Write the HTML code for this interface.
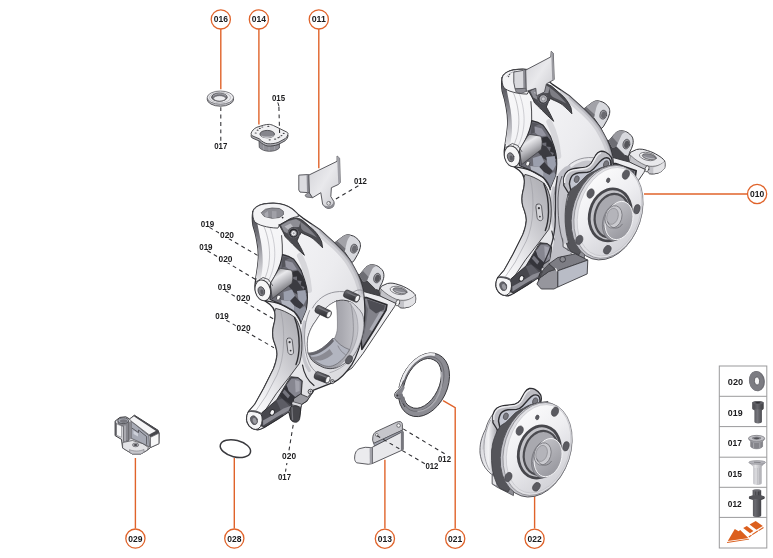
<!DOCTYPE html>
<html>
<head>
<meta charset="utf-8">
<title>Wheel bearing housing - exploded view</title>
<style>
html,body{margin:0;padding:0;background:#fff;}
body{width:773px;height:558px;overflow:hidden;font-family:"Liberation Sans",sans-serif;}
svg{display:block;}
.lbl{font-family:"Liberation Sans",sans-serif;font-weight:bold;font-size:8px;fill:#1c1c1e;}
.co{fill:#fff;stroke:#e0632a;stroke-width:1.3;}
#callouts text{font-size:8.8px;}
#legend text{font-size:8.6px;}
#labels text{font-size:8.5px;}
.ol{stroke:#e0632a;stroke-width:1.4;fill:none;}
.ds{stroke:#2e2e32;stroke-width:1.05;stroke-dasharray:3.9 3.5;fill:none;}
.tb{stroke:#9a9a9c;stroke-width:1;fill:none;}
</style>
</head>
<body>
<svg width="773" height="558" viewBox="0 0 773 558">
<defs>
<filter id="fx" x="-5%" y="-5%" width="110%" height="110%" color-interpolation-filters="sRGB"><feOffset dx="0" dy="0"/></filter>
<linearGradient id="gBody" x1="0" y1="0" x2="1" y2="1">
<stop offset="0" stop-color="#fbfbfc"/><stop offset="0.5" stop-color="#ececef"/><stop offset="1" stop-color="#cdcdd2"/>
</linearGradient>
<linearGradient id="gArm" x1="1" y1="0" x2="0.2" y2="1">
<stop offset="0" stop-color="#a6a6ac"/><stop offset="0.4" stop-color="#c6c6cb"/><stop offset="0.75" stop-color="#e9e9ec"/><stop offset="1" stop-color="#fbfbfc"/>
</linearGradient>
<linearGradient id="gFacet" x1="0" y1="0" x2="0" y2="1"><stop offset="0" stop-color="#4d4d53"/><stop offset="0.3" stop-color="#707077"/><stop offset="0.65" stop-color="#b0b0b6"/><stop offset="1" stop-color="#e3e3e6"/></linearGradient>
<linearGradient id="gPin" x1="0" y1="0" x2="0.45" y2="1">
<stop offset="0" stop-color="#6d6d72"/><stop offset="0.35" stop-color="#e9e9ec"/><stop offset="0.6" stop-color="#b5b5ba"/><stop offset="1" stop-color="#55555a"/>
</linearGradient>
<linearGradient id="gWall" x1="0" y1="0" x2="1" y2="0">
<stop offset="0" stop-color="#8d8d94"/><stop offset="0.6" stop-color="#a9a9b0"/><stop offset="1" stop-color="#cfcfd4"/>
</linearGradient>
<linearGradient id="gEar" x1="0" y1="0" x2="1" y2="1">
<stop offset="0" stop-color="#d6d6da"/><stop offset="1" stop-color="#a8a8ae"/>
</linearGradient>
<linearGradient id="gStud" x1="0" y1="0" x2="0" y2="1">
<stop offset="0" stop-color="#77777c"/><stop offset="0.4" stop-color="#4a4a4f"/><stop offset="1" stop-color="#2f2f33"/>
</linearGradient>

<clipPath id="ckb"><use href="#kbody"/></clipPath>
<g id="knuckle" stroke-linejoin="round" stroke-linecap="round">
<!-- ears -->
<path d="M333.9 243.4L341.5 237.5C343.5 236 345.2 235.2 346.9 234.8C348.3 234.6 349.6 234.8 350.9 235.3C352.8 235.6 354.4 236.4 355.8 237.5C357.6 238.8 358.9 240.2 359.8 242C360.5 243.6 360.6 245.5 360.3 247.4C359.8 250 358.8 252.2 357.6 254.5L354 260.8L351.8 262.6L344.6 251.9Z" fill="#d8d9de" stroke="#3c3c40" stroke-width="1"/>
<path d="M333.9 243.4L341.5 237.5C343.5 236 345.2 235.2 346.9 234.8C348.3 234.6 349.6 234.8 350.9 235.3C349 237.2 347.8 239.4 346.9 242L344.6 251.9L339.2 247.4Z" fill="#a2a2a8"/>
<path d="M333.9 243.4L339.2 247.4L344.6 251.9L345.4 248.5L337 241Z" fill="#707076"/>
<ellipse cx="354" cy="248.7" rx="3.3" ry="4.5" transform="rotate(14 354 248.7)" fill="#9b9ba1" stroke="#47474c" stroke-width="0.7"/>
<ellipse cx="354.3" cy="248.9" rx="2.3" ry="3.4" transform="rotate(14 354.3 248.9)" fill="#6a6a70"/>
<!-- dark band under ear 2 -->
<path d="M357 273.5L368 279L380.5 288.5L384 295.5L398 299L396 304L384 300L372 297L362 292L356 284Z" fill="#46464b" stroke="#333337" stroke-width="0.8"/>
<!-- ear 2 -->
<path d="M359.4 274.9L365.8 267.4C367.5 265.8 369.3 265 371.2 264.7C373.2 264.6 375.2 265 377.1 265.8C379.5 267 381.5 268.8 383 271.1C384 273.4 384.2 276 383.5 278.7C382.8 281.5 381.7 284 380.3 286.2L379.2 290.5L375.5 289.4L366.9 280.8L363.1 281.9Z" fill="#d8d9de" stroke="#3c3c40" stroke-width="1"/>
<path d="M359.4 274.9L365.8 267.4C367.5 265.8 369.3 265 371.2 264.7C373.2 264.6 375.2 265 377.1 265.8C375 266.4 373.4 267.4 372.3 269L366.9 280.8L363.1 281.9Z" fill="#9a9aa0"/>
<path d="M359.4 274.9L363.1 281.9L366.9 280.8L368.5 277L363 271Z" fill="#6d6d73"/>
<ellipse cx="377.1" cy="278.1" rx="3.4" ry="4.9" transform="rotate(14 377.1 278.1)" fill="#9b9ba1" stroke="#47474c" stroke-width="0.7"/>
<ellipse cx="377.4" cy="278.3" rx="2.4" ry="3.7" transform="rotate(14 377.4 278.3)" fill="#55555a"/>
<!-- tie-rod ear -->
<path d="M379.2 290.5L381.4 286.2L387.3 283.5C391 282.6 395 283.4 398.1 284.6C402 285.6 405.6 287.4 408.8 289.4C411.5 291 413.8 292.8 415.3 294.8C415.8 297.5 415.8 300 415.3 302.3C413.8 304.2 412 305.6 409.9 306.6C406.6 307.8 403.4 308.2 400.2 307.7L395.9 303.4L388 301L380 296Z" fill="#e9e9ec" stroke="#3c3c40" stroke-width="1"/>
<path d="M381.4 289.5C386 294 391 297 396 299.2C402 301.4 410 300.6 415.4 295.4C415.8 297.8 415.8 300 415.3 302.3C413.8 304.2 412 305.6 409.9 306.6C406.6 307.8 403.4 308.2 400.2 307.7L395.9 303.4L388 301L380.4 296Z" fill="#c3c3c8" stroke="#3c3c40" stroke-width="0.6"/>
<path d="M404 301.5C408 301 412 298.8 415.3 295.5L415.3 302.3C413.8 304.2 412 305.6 409.9 306.6L404 307.6Z" fill="#e3e3e6"/>
<ellipse cx="398.6" cy="290.5" rx="8.6" ry="3.9" transform="rotate(12 398.6 290.5)" fill="#f2f2f4" stroke="#5a5a60" stroke-width="0.7"/>
<ellipse cx="399.6" cy="290.7" rx="6.8" ry="2.7" transform="rotate(12 399.6 290.7)" fill="#8a8a91" stroke="#4a4a4e" stroke-width="0.6"/>
<path d="M393.4 289.6C395 291.6 398.5 292.9 402 293.2C404 293.2 405.6 292.8 406.3 292.2C404 292.4 401 292.2 398.6 291.6C396.4 291.1 394.6 290.4 393.4 289.6Z" fill="#b9b9bf"/>
<ellipse cx="397.7" cy="302.8" rx="1.9" ry="3.2" transform="rotate(18 397.7 302.8)" fill="#f4f4f5" stroke="#3c3c40" stroke-width="0.7"/>
<!-- right dark web -->
<path d="M358 290L380 296L396 303.5L394.6 306.5L384.7 321L373.9 337.2L363 353.5L352 368L338 377L332 372L356 345Z" fill="#ededf0" stroke="#333337" stroke-width="0.9"/>
<path d="M362 297.6L366.3 297.5L386.9 304.7L386 310L374 330L361.9 349.4L360 330Z" fill="#82828a" stroke="#2c2c30" stroke-width="1.7"/>
<path d="M367 299.2L385 305.6L384.2 309.6L376 313.5L369.5 308.5Z" fill="#4d4d54"/>
<path d="M383.6 312L372 331L369.4 329.4L380 311.6Z" fill="#abacb5"/>
<path d="M363.5 300L368 309L366 325L363.5 338Z" fill="#6d6d75"/>

<!-- main silhouette -->
<path id="kbody" d="M252.8 211.8C253.6 208.4 258 205 264.1 204C270 203 278 202.8 284.1 204.9C290 206.6 295 211 297.9 214.3L302.9 218.1L319.7 229.5L335.4 243.8C343 251 350 259 353.5 266C357 272 361.5 281 363.4 292C365.4 304 365.6 318 363 332C361 343 357 356 351.8 364.6C346 373 340 379 334.6 381.8L323.8 386.1L313 390.4L306.7 400.9L301.3 404.5L299.5 417.1L295.9 421.5L290.6 418.9L288.8 411.7L278 418.9L263.7 427.8C261 429.4 258 430 256.5 429.6C253 429 250.5 427.5 249.3 426C247 423 246.4 420.5 246.6 418.9C246.8 416 247.4 413.5 248.4 411.7L254.7 404.5L263.7 388.4L273.5 368.7C275.5 364 276.8 358.5 277.1 354.3C277 349 275 344 273.5 340C272.3 335 272.6 330 273.5 326C275 321 275.6 316 274.8 312C274 308.6 272.6 306.6 270 304.5L263.6 299.9C260 297.5 257.5 295.5 256.3 293C255 290 254.7 286.4 255.2 283L255.9 278C256.6 273 258 266 258.4 258C258.6 252 258 247 257 242C256 236 254.5 230 253 225.5C252.2 221 252.2 216 252.8 211.8Z" fill="url(#gBody)" stroke="#2c2c30" stroke-width="1.3"/>

<!-- soft edge shading -->
<g clip-path="url(#ckb)" fill="none" stroke-linecap="round">
<path d="M316 227L335.4 243.8C343 251 350 259 353.5 266C357 272 361.5 281 363.4 292" stroke="#b4b4bb" stroke-width="11" opacity="0.45"/>
<path d="M322 231.5L335.4 243.8C343 251 350 259 353.5 266C357 272 361.5 281 363.4 292" stroke="#a6a6ad" stroke-width="5" opacity="0.5"/>
<path d="M300 256C305 266 308 277 309 290" stroke="#c6c6cc" stroke-width="6" opacity="0.6"/>
</g>
<!-- left arm shading -->
<path d="M252.8 214C252.2 218 252.3 222 253 225.5C254.5 230 256 236 257 242C258 247 258.6 252 258.4 258C258 266 256.6 273 255.9 278L260.6 279.5C262 273 262.8 267 262.7 261C262.6 253 261.8 245 260.2 238C258.8 231 257.4 224 256 216Z" fill="url(#gFacet)"/>

<path d="M264 226.5C268 236 270 248 269.5 258C269 268 266.5 276 263 282" fill="none" stroke="#a2a2a8" stroke-width="0.6"/>
<path d="M270 227.6C274 238 275.5 250 274.5 260C273.5 270 270 279 266 285" fill="none" stroke="#b4b4ba" stroke-width="0.6"/>

<!-- cavity behind left arm -->
<path d="M282.4 254.6C281.6 261 279 268 276 274C274 278 272 281 270.5 283.5L270 299.5L281.6 304.4L294.2 311.5L301 322L306.4 309C307.6 302 307.8 294 306.6 287.6C305.4 282 303.4 276 301.3 270.6C298.6 266 296 262 293.8 259.3C290.5 257 286.5 255.4 282.4 254.6Z" fill="#6c6c75" stroke="#2e2e32" stroke-width="1.1"/>
<!-- upper lighter patch -->
<path d="M285 260.5L292.5 262.5L297 269.5L290.5 270.5L285.5 266.5Z" fill="#9494a0"/>
<path d="M282.6 256.5L290 258L285 260.5L285.5 266.5L281.5 268Z" fill="#54545b"/>
<!-- middle dark -->
<path d="M290 272L298 270.5L302.5 276L306 284L306.8 293L303 291.5L304.5 287L300.5 285.5L301.5 281L297 280.5L297 276.5L292.5 277Z" fill="#313136"/>
<path d="M291 278L297 280.5L300.5 285.5L304.5 291L306.6 296L301 296.5L294 292.5L288.5 286Z" fill="#3b3b41"/>
<!-- lower lighter -->
<path d="M283.5 292L292 289.5L295 296L290 301L284 300Z" fill="#9b9fad"/>
<path d="M297 291L305.5 290L306.5 299L303.5 305L298.5 300Z" fill="#9b9fad"/>
<path d="M290 301L295 296L298.5 300L303.5 305L300 309L294.5 306Z" fill="#3a3a40"/>
<path d="M281 300L290 301L294.5 306L294.2 311.5L282 304.5Z" fill="#b0b3be"/>
<path d="M294.5 306L300 309L304.8 306L306.4 309L301 322L294.2 311.5Z" fill="#8e919d"/>
<!-- pin -->
<path d="M270.5 283.5C273 279 276 274 278.6 269.6L280.5 268.4L291.5 270.2C293 273 293.4 278 292 283.4L272.5 298.5Z" fill="url(#gPin)" stroke="#38383c" stroke-width="0.7"/>
<path d="M281.6 235.6C282.2 242 282.6 248 282.4 254.6" fill="none" stroke="#333337" stroke-width="0.9"/>
<!-- left boss -->
<ellipse cx="262.8" cy="290.4" rx="7.6" ry="10.6" transform="rotate(-14 262.8 290.4)" fill="#f6f6f7" stroke="#3a3a3e" stroke-width="1"/>
<path d="M256.5 281.5L263 277.5L268.5 279.5L272.5 285.5" fill="none" stroke="#3a3a3e" stroke-width="0.8"/>
<ellipse cx="261.4" cy="291.3" rx="3.2" ry="4.6" transform="rotate(-14 261.4 291.3)" fill="#85858b" stroke="#444448" stroke-width="0.8"/>
<ellipse cx="262" cy="292" rx="1.6" ry="2.6" transform="rotate(-14 262 292)" fill="#5c5c62"/>
<ellipse cx="278.5" cy="297.6" rx="1.9" ry="2.6" transform="rotate(20 278.5 297.6)" fill="#f6f6f7" stroke="#3a3a3e" stroke-width="0.7"/>
<!-- outline curve under boss -->
<path d="M266 300.8C272 301.5 277 302.6 281.6 304.6C287 307 291.5 309.6 294.4 312C297.5 315 300 319.5 301 323.5" fill="none" stroke="#2e2e32" stroke-width="1.3"/>

<!-- top boss -->
<path d="M252.8 211.8C253.6 208.4 258 205 264.1 204C270 203 278 202.8 284.1 204.9C290 206.6 295 211 297.9 214.3L298.5 216.5C294 217 290.5 218.2 287.9 220L279.5 225.2L277.9 228.1C272 228 267 227 264.1 226.2C259 225 256 223 254.7 221.8C253 219 252.4 215 252.8 211.8Z" fill="#f3f3f5" stroke="#38383c" stroke-width="0.9"/>
<path d="M261.5 212.5L265.5 209.2L272 208L279.5 208.5L283.3 211.2L283.5 214.5L279.5 217.5L272 218.3L264.5 216.5Z" fill="#8d8d94" stroke="#55555a" stroke-width="0.8"/>
<path d="M264.5 213.5L268 211L268.5 217.6L264.8 216.4Z" fill="#a9a9b0"/>
<path d="M272 211L276.5 211.2L276.5 217.9L272 218.3Z" fill="#a0a0a7"/>
<circle cx="282.6" cy="217.6" r="0.9" fill="#2a2a2e"/>

<!-- dark pocket -->
<path d="M279.1 225L287.9 220.3C291 218.6 294.5 217.8 296.7 218.1C299.5 218.6 301.5 219.5 302.9 220.6L314.2 230.6C317.5 234 320 238 321.7 241.9L322.6 247.8C320.5 245.6 318.5 243.6 316.5 241.8C314.5 240 313.6 239.2 312.9 238.6C310 236.6 307.4 235.4 305 234.5C303.4 233.8 302 233 301 232.4C300.8 233.6 300.2 234.6 299.2 235.6L297 241C299.5 245 302 250 304.4 255.3C300 251.5 296 247.5 292.5 244C289.5 241 287 238.5 285.2 236.8C283.8 233 281.5 229 279.1 225Z" fill="#4b4b50" stroke="#2c2c30" stroke-width="0.9"/>
<path d="M281 225.3L288.5 221L296 219L300.5 221.5L299 227L291 227.5L287.5 233.5L284 231.5Z" fill="#8d8d94"/>
<path d="M284.5 226.5L290.5 223.4L293 226.6L288 229.5Z" fill="#b9b9bf"/>
<path d="M300 221.5C305 224.5 311 230 317 237.5C313.5 235.6 310 234 306.7 232.6C304.5 231.6 302.4 230.4 301.3 228.5Z" fill="#7d7d84"/>
<circle cx="293.5" cy="233" r="5.7" fill="#26262a"/>
<circle cx="293.5" cy="233" r="5" fill="none" stroke="#5e5e64" stroke-width="1.6" stroke-dasharray="1.1 1.3"/>
<circle cx="293.7" cy="233.3" r="2.8" fill="#f2f2f4" stroke="#77777d" stroke-width="0.9"/>
<circle cx="293.7" cy="233.3" r="1.1" fill="#9a9aa0"/>

<!-- ring boss around hole -->
<path d="M304.5 322C302.5 330 301.8 340 302.6 350C303.4 358 305.6 365 309.4 370.5" fill="none" stroke="#c6c6cc" stroke-width="3.2"/>
<path d="M312.5 308C317 299.5 325.5 293.5 335 292C341 291 347 291.5 351 293.8C355.5 290 360 289 362.8 290.6" fill="none" stroke="#8d8d94" stroke-width="0.9"/>
<path d="M309.6 310.5C306.4 317.5 304.5 327 304.5 337C304.5 347 306 356 309.4 363.5C311 367 313.5 370 316 372" fill="none" stroke="#8d8d94" stroke-width="0.9"/>
<path d="M330 372.6C336 371 343 367 348.6 361.5" fill="none" stroke="#a2a2a8" stroke-width="0.8"/>
<!-- hole -->
<path id="khole" d="M336.4 301.1C339 300.2 341.5 300 343.6 300.2C346 300.4 348 300.8 349.8 301.6C352.4 302.8 354.4 304.4 356.1 306.5C358.8 309 361 311.6 362.4 314.6C363.4 318 363.8 321.6 363.7 325.3C363.4 331 362 337 360.1 342.5C358 348 355.4 352.8 352.6 356.6C348 361.6 342 365.4 336.6 367.6C334 368.4 331.5 368.8 329 368.6C326 368.4 323 367.6 320.4 366C317 364.4 314.2 362.4 311.8 360.1C310 357.6 308.8 354.8 308.1 351.5C307.4 348 307.2 344.4 307.5 340.8C307.8 338 308.1 336.5 308.6 335C310 330 312.6 325 315.8 320.9C319 315.6 322.6 311 326.5 307.4C329.6 304.6 333 302.5 336.4 301.1Z" fill="url(#gWall)" stroke="#47474c" stroke-width="1"/>
<!-- light strip right -->
<path d="M349.8 301.6C352.4 302.8 354.4 304.4 356.1 306.5C358.8 309 361 311.6 362.4 314.6C363.4 318 363.8 321.6 363.7 325.3C363.4 331 362 337 360.1 342.5C358 348 355.4 352.8 352.6 356.6C348 361.6 342 365.4 336.6 367.6C341 364.4 346 360 349.4 355C352.6 350 355.4 343.6 356.8 337.6C357.8 333 358.2 329 357.9 325.3C357.6 320 356.8 315.4 355.2 311.9C353.6 308 351.6 305 348.9 302.9Z" fill="#d6d6db" stroke="#8d8d94" stroke-width="0.5"/>
<path d="M350.7 303.5C352.4 310 353.4 320 353.4 330C353.2 338 351.6 346 348.6 352" fill="none" stroke="#85858c" stroke-width="0.7"/>
<!-- see-through -->
<path d="M336.4 301.1L336.6 305C337.2 312 337.6 320 337.4 328C337.2 331.5 336.2 335 334.4 338.6L332.3 338.6C330 341.5 327.4 344 324.7 346.1C322 348.4 319.2 350.2 316.1 351.5C313.4 352.5 310.6 353.2 308.1 353.1C307.4 349 307.2 344.4 307.5 340.8C307.8 338 308.1 336.5 308.6 335C310 330 312.6 325 315.8 320.9C319 315.6 322.6 311 326.5 307.4C329.6 304.6 333 302.5 336.4 301.1Z" fill="#ffffff" stroke="#6a6a70" stroke-width="0.6"/>
<!-- floor -->
<path d="M308.1 353.1C310.6 353.2 313.4 352.5 316.1 351.5C319.2 350.2 322 348.4 324.7 346.1C327.4 344 330 341.5 332.3 338.6L334.4 338.6C338 343.5 343 347.5 349.5 349.6C347 354.5 343 359.6 337.6 363.4C334 365.6 331 366.6 328.4 366.4C325.6 366.2 323 365.4 320.6 364.2C317.4 362.6 314.6 360.6 312.4 358.6C310.4 356.6 309 354.8 308.1 353.1Z" fill="#b2b5c0" stroke="#5a5a60" stroke-width="0.6"/>
<path d="M308.1 353.1C310.6 353.2 313.4 352.5 316.1 351.5C319.2 350.2 322 348.4 324.7 346.1C327.4 344 330 341.5 332.3 338.6L334 341C331.5 344 329 346.5 326 348.8C323 351 320 352.8 317 354C314.2 355 311.6 355.6 309.4 355.4Z" fill="#65656c"/>
<path d="M311 356.4C313.5 357 316.5 356.6 319.6 355.4C323 354 326.4 351.8 329.6 349L333 354C329.5 357 326 359 322.6 360C319 361 315.6 360.6 313.2 359.4Z" fill="#8b8b93"/>
<path d="M338 346C339.6 349.5 342 352.5 345.4 354.6" fill="none" stroke="#77777e" stroke-width="0.7"/>

<!-- hex hole + tiny bolts -->
<ellipse cx="349" cy="359.8" rx="3" ry="4.5" transform="rotate(28 349 359.8)" fill="#5e5e64" stroke="#3a3a3e" stroke-width="0.6"/>
<circle cx="332.4" cy="381.6" r="2" fill="#dcdce0" stroke="#303034" stroke-width="0.8"/>
<circle cx="332.4" cy="381.6" r="0.8" fill="#55555a"/>
<circle cx="310.5" cy="391.6" r="2.4" fill="#dcdce0" stroke="#303034" stroke-width="0.8"/>
<circle cx="310.5" cy="391.6" r="1" fill="#55555a"/>

<!-- lower arm -->
<path d="M276 308.5C281 309.5 288 312.5 294.4 317C298 321 300.5 328 301.5 336C302.5 345 302 355 299.5 363.3L288.8 377.6L276.2 393.8L265.5 409.9L261 414C257 411.5 252 411 248.4 411.7L254.7 404.5L263.7 388.4L273.5 368.7C275.5 364 276.8 358.5 277.1 354.3C277 349 275 344 273.5 340C272.3 335 272.6 330 273.5 326C275 321 275.6 316 274.8 312Z" fill="url(#gArm)" stroke="#333337" stroke-width="0.9"/>
<path d="M281 312C283.5 322 284 334 283.5 345C283 356 281 366 277 375L266 396L256.5 410" fill="none" stroke="#9c9ca2" stroke-width="0.6"/>
<path d="M294.5 317.5C297.8 326 299.3 336 299.2 346C299 354 297.8 360 296 364.5" fill="none" stroke="#2e2e32" stroke-width="1.4"/>
<!-- slot -->
<path d="M287.6 338.4C289.2 337.4 291.6 338 292.2 340.2L293.6 352C293.6 354.2 291.6 355.2 289.8 354.4C288.6 353.8 288 352.8 287.8 351.4L286.6 341C286.6 339.8 287 339 287.6 338.4Z" fill="#d4d4d8" stroke="#47474c" stroke-width="0.8"/>
<circle cx="289.6" cy="342.2" r="1.1" fill="#38383c"/>
<circle cx="290.6" cy="350.6" r="0.9" fill="#38383c"/>
<!-- lower cavity -->
<path d="M290.8 376.8L298 377.5L302.3 380.8L301.2 394.7L294.1 399.1L292.1 405.5L289 411.5L278 418.9L265 427L260.8 425.8L261.5 413L276.5 400.1Z" fill="#47474d" stroke="#2c2c30" stroke-width="0.9"/>
<path d="M291.5 378.5L298 378.5L301.4 381.6L300.6 393.6L295 397L288.5 391L286.5 385Z" fill="#868690"/>
<path d="M295 380L299.6 381.6L299.6 391L295.6 392.6Z" fill="#a3a3ad"/>
<path d="M286.5 385L288.5 391L295 397L294.1 399.1L292.1 405.5L282 398.5L279.5 395.5Z" fill="#34343a"/>
<path d="M284.5 389.5L290 395.5L288 398.5L282.5 392.5Z" fill="#75757e"/>
<path d="M276.5 400.5L282 398.5L290.5 407L289 411.5L283 415.5Z" fill="#5d5d65"/>
<path d="M263.2 425.6L276 417.6L288.6 410.6L291.2 405.8L283.5 408.6L272 415.6L263 420.5Z" fill="#8b8b93"/>
<ellipse cx="272.2" cy="412.4" rx="2.2" ry="2.9" transform="rotate(25 272.2 412.4)" fill="#f4f4f5" stroke="#2c2c30" stroke-width="0.9"/>
<!-- arm tip face -->
<path d="M248.4 411.7C252 410.6 257 411.5 261 414C262.8 417.5 262.6 422.5 260.5 426.5C258.5 429.3 256 430 253.5 429C250 427.5 247.3 424 246.7 420.5C246.3 417 247 414 248.4 411.7Z" fill="#f5f5f6" stroke="#333337" stroke-width="1"/>
<ellipse cx="254" cy="420.2" rx="3.3" ry="4.5" transform="rotate(-20 254 420.2)" fill="#66666c" stroke="#47474c" stroke-width="0.7"/>
<ellipse cx="254.7" cy="420.8" rx="1.9" ry="2.9" transform="rotate(-20 254.7 420.8)" fill="#9a9aa0"/>
<path d="M249.6 410.6C253 409.6 258 410.6 261.6 413L262.2 415.4C258.5 412.6 253.5 411.4 248.8 412.2Z" fill="#55555a"/>
<!-- ball-joint clamp + bolt -->
<path d="M294 398.5L300.5 394L307.5 397L313.5 391.5L306.8 401L301.4 404.6L293.5 402.5Z" fill="#9a9aa0" stroke="#2c2c30" stroke-width="0.8"/>
<path d="M292.6 401.6L301.6 404.2L301 407.2L291.8 404.6Z" fill="#dadade" stroke="#2c2c30" stroke-width="0.6"/>
<path d="M290 409.5C290 406.5 293 405.2 296 405.8C299 406.2 300.8 408 300.6 410.5L299.6 419.2C299 421.5 296.5 422.6 294.5 422.2C292 421.8 290.4 420.2 290.4 418Z" fill="#46464b" stroke="#26262a" stroke-width="0.7"/>
<path d="M292 407.5L292.6 419.5" stroke="#77777d" stroke-width="1.2" fill="none"/>

<!-- bottom ring edge light -->
<path d="M302.5 365C304 374 308 381 314 385.5" fill="none" stroke="#2e2e32" stroke-width="1.2"/>
</g>

<g id="kstuds">
<!-- studs -->
<g><path d="M344.6 297.3L355.6 302.1A2.2 3.9 24 0 0 358.8 294.9L347.8 290.1A2.2 3.9 24 0 0 344.6 297.3Z" fill="url(#gStud)" stroke="#2a2a2e" stroke-width="0.7"/><path d="M347.4 292.3L356.5 296.3" stroke="#77777d" stroke-width="1.3" fill="none"/><ellipse cx="357.2" cy="298.5" rx="2" ry="3.4" transform="rotate(24 357.2 298.5)" fill="#f6f6f7" stroke="#3a3a3e" stroke-width="0.6"/></g>
<g><path d="M315.8 312.5L327.2 317.9A2.2 3.9 25 0 0 330.6 310.9L319.2 305.5A2.2 3.9 25 0 0 315.8 312.5Z" fill="url(#gStud)" stroke="#2a2a2e" stroke-width="0.7"/><path d="M318.7 307.6L328.3 312.2" stroke="#77777d" stroke-width="1.3" fill="none"/><ellipse cx="328.9" cy="314.4" rx="2" ry="3.4" transform="rotate(25 328.9 314.4)" fill="#f6f6f7" stroke="#3a3a3e" stroke-width="0.6"/></g>
<g><path d="M315.0 378.8L326.4 383.2A2.2 3.9 21 0 0 329.2 376.0L317.8 371.6A2.2 3.9 21 0 0 315.0 378.8Z" fill="url(#gStud)" stroke="#2a2a2e" stroke-width="0.7"/><path d="M317.5 373.7L327.0 377.4" stroke="#77777d" stroke-width="1.3" fill="none"/><ellipse cx="327.8" cy="379.6" rx="2" ry="3.4" transform="rotate(21 327.8 379.6)" fill="#f6f6f7" stroke="#3a3a3e" stroke-width="0.6"/></g>
</g>
<linearGradient id="gFl" x1="0" y1="0" x2="1" y2="1">
<stop offset="0" stop-color="#ffffff"/><stop offset="0.45" stop-color="#eeeef1"/><stop offset="1" stop-color="#c9c9cf"/>
</linearGradient>
<linearGradient id="gBk" x1="0" y1="0" x2="1" y2="0">
<stop offset="0" stop-color="#d9d9de"/><stop offset="0.5" stop-color="#f1f1f3"/><stop offset="1" stop-color="#a9a9b0"/>
</linearGradient>
<linearGradient id="gCyl" x1="0" y1="0" x2="1" y2="1">
<stop offset="0" stop-color="#c9c9ce"/><stop offset="1" stop-color="#909097"/>
</linearGradient>
<g id="hubBody" stroke-linejoin="round">
<!-- bearing body bulge -->
<path d="M493 414C489.5 418.5 487 423.5 485.7 429C483.5 433 481.8 437.5 480.8 441.9C480 446 479.8 449.5 480 453.2C480.6 457.5 481.6 461 483.3 464.5C485.5 468.5 488 471.5 491.3 474.2L496 474L497 416Z" fill="url(#gBk)" stroke="#5a5a60" stroke-width="0.9"/>
<path d="M490.5 420C486.5 428 484.3 437 484 446C483.8 455 485.5 463 489.5 470" fill="none" stroke="#8d8d93" stroke-width="0.7"/>
<path d="M487.6 426.5C484.5 434 483 442 483 449.5" fill="none" stroke="#b0b0b6" stroke-width="0.6"/>
</g>
<g id="hubBack" stroke-linejoin="round">
<!-- back flange rim -->
<path d="M492.9 422.6L492.9 415.3C493.6 412 495 409.6 497 408.1C499 406.6 501 405.9 503.4 405.6C507 405.1 511 404.9 514.8 404.2C517 403.6 519 402.2 520.4 400.1L524.8 392.3C526 390.3 527.5 389 529.3 388.5C531.3 388.1 533.2 388.5 534.9 389.4C537.5 390.8 539.4 392.5 540.5 394.6C541.3 396.5 541.5 398.4 541.2 400.1L540.5 403.5L521 415L505 432L497.5 430Z" fill="#bdbdc3" stroke="#2e2e32" stroke-width="1.3"/>
<path d="M493.8 420V415.6C494.6 412.5 496 410.4 498 409C500 407.6 502 407.2 504 407C508 406.5 512 406.3 515.5 405.4C518 404.6 520 403 521.5 400.8L525.6 393.4C526.8 391.6 528.2 390.5 530 390.1" fill="none" stroke="#ededf0" stroke-width="1.4"/>
<!-- back flange face -->
<path d="M498.5 421C499 416.5 500.2 413.5 502.4 411.9C504 410.7 506 410 508 409.8C511 409.6 514 409.6 516.5 409.4C519 409 521 407.8 522.6 406L528.8 399C530.3 397.3 531.8 396 533.6 395.2C535.3 394.6 537 394.8 538.4 395.8C539.6 397 540.2 399 540 401.1L539.5 404L521 416L506 432L500 428Z" fill="#c3c6d1" stroke="#2e2e32" stroke-width="1.4"/>
<ellipse cx="535.2" cy="401.3" rx="2.5" ry="3.6" transform="rotate(18 535.2 401.3)" fill="#77777e" stroke="#4b4b50" stroke-width="0.7"/>
<ellipse cx="505.8" cy="416.3" rx="2.4" ry="3.4" transform="rotate(18 505.8 416.3)" fill="#77777e" stroke="#4b4b50" stroke-width="0.7"/>
<!-- lower ear -->
<path d="M492.1 474.6L492.1 483.9L497 487.1L513.4 495.6L514 488L497.5 470Z" fill="#8e8e95" stroke="#47474c" stroke-width="0.8"/>
<path d="M492.8 476L492.8 483.5L496.2 485.6L496.2 477.6Z" fill="#e3e3e6"/>
<!-- dark band -->
<path d="M548 401.4L539.7 402.8C536 403.2 533 403.8 530.8 404.6C528 405.6 525.5 407 523.6 408.2C520.5 409.6 518 411 515.5 412.6C514 414 512.5 415.6 511.1 417.1L505.7 422.5C503.5 423.8 501.8 425 500.3 426.1C499 428 498 429.8 497 431.5C496 433.5 495.2 435.5 494.5 437.5C493.8 439.4 493.2 441.2 492.8 443C492.4 444.4 492.2 445.8 492.2 447C491.6 449 491.4 451 491.5 453C491.3 458 491.5 463 492.1 467.7C492.4 470.4 493 473 493.7 475C494.6 478.4 495.8 481.6 497 484L500 488.5L508 492L520 470L540 420Z" fill="#55555a" stroke="#39393d" stroke-width="0.7"/>
</g>
<g id="hubFront" stroke-linejoin="round">
<ellipse cx="536" cy="449.6" rx="34.2" ry="48.6" transform="rotate(18 536 449.6)" fill="#c3c3c9" stroke="#55555a" stroke-width="0.9"/>
<ellipse cx="537.6" cy="449" rx="33" ry="47.6" transform="rotate(18 537.6 449)" fill="#e1e1e5" stroke="#77777d" stroke-width="0.6"/>
<ellipse cx="538.6" cy="448.8" rx="30.6" ry="45.4" transform="rotate(18 538.6 448.8)" fill="url(#gFl)" stroke="#b9b9bf" stroke-width="0.5"/>
<!-- bolt holes -->
<g fill="#5b5b61" stroke="#46464b" stroke-width="0.6">
<ellipse cx="555" cy="411.7" rx="3.4" ry="4.8" transform="rotate(22 555 411.7)"/>
<ellipse cx="519.7" cy="430.6" rx="3.4" ry="4.8" transform="rotate(22 519.7 430.6)"/>
<ellipse cx="566" cy="446.3" rx="3" ry="4.8" transform="rotate(14 566 446.3)"/>
<ellipse cx="508.4" cy="477" rx="3.4" ry="4.8" transform="rotate(22 508.4 477)"/>
<ellipse cx="536.4" cy="486.8" rx="3.4" ry="4.6" transform="rotate(30 536.4 486.8)"/>
<ellipse cx="537.3" cy="417.4" rx="1.7" ry="2.4" transform="rotate(18 537.3 417.4)"/>
</g>
<!-- centre boss -->
<ellipse cx="539.4" cy="452" rx="20.6" ry="26.4" transform="rotate(16 539.4 452)" fill="#c3c3c8" stroke="#47474c" stroke-width="2.8"/>
<ellipse cx="541" cy="452.8" rx="16.8" ry="22.2" transform="rotate(16 541 452.8)" fill="#a9a9af" stroke="#4b4b50" stroke-width="2.2"/>
<!-- protruding cylinder -->
<ellipse cx="545.4" cy="458.8" rx="13.4" ry="19.4" transform="rotate(16 545.4 458.8)" fill="#96969d" stroke="#6d6d73" stroke-width="0.6"/>
<path d="M532.4 462L535.2 470.5L540.6 476.2" fill="none" stroke="#77777d" stroke-width="0.6"/>
<ellipse cx="548.1" cy="457.6" rx="13.4" ry="19.5" transform="rotate(16 548.1 457.6)" fill="url(#gCyl)" stroke="#f4f4f6" stroke-width="0.9"/>
<ellipse cx="542.6" cy="454" rx="8.3" ry="11.4" transform="rotate(16 542.6 454)" fill="#cacacf" stroke="#77777d" stroke-width="0.8"/>
<ellipse cx="541.6" cy="453.4" rx="5.6" ry="8.2" transform="rotate(16 541.6 453.4)" fill="#b4b4ba" stroke="#8d8d93" stroke-width="0.7"/>
<path d="M536.6 458.5C538 462.5 541 465 544.6 465.2C547.5 465.2 550 463.6 551.6 461" fill="none" stroke="#707076" stroke-width="0.9"/>
</g>

<linearGradient id="gPl" x1="0" y1="0" x2="1" y2="1"><stop offset="0" stop-color="#cfcfd4"/><stop offset="0.5" stop-color="#e9e9ec"/><stop offset="1" stop-color="#c9c9ce"/></linearGradient>
<linearGradient id="gL1" x1="0" y1="0" x2="1" y2="0"><stop offset="0" stop-color="#47474c"/><stop offset="0.45" stop-color="#77777d"/><stop offset="1" stop-color="#3c3c40"/></linearGradient>
<linearGradient id="gL2" x1="0" y1="0" x2="1" y2="0"><stop offset="0" stop-color="#9d9da3"/><stop offset="0.4" stop-color="#e3e3e6"/><stop offset="1" stop-color="#8a8a90"/></linearGradient>
<linearGradient id="gL3" x1="0" y1="0" x2="1" y2="0"><stop offset="0" stop-color="#3c3c40"/><stop offset="0.4" stop-color="#6a6a70"/><stop offset="1" stop-color="#2f2f33"/></linearGradient>

</defs>
<rect x="0" y="0" width="773" height="558" fill="#ffffff"/>

<!-- ===== orange leader lines ===== -->
<g id="leaders">
<path class="ol" d="M220.8 29V89.3"/>
<path class="ol" d="M258.9 29V124.5"/>
<path class="ol" d="M318.8 29V168.2"/>
<path class="ol" d="M644 194H747"/>
<path class="ol" d="M135.4 458V528.5"/>
<path class="ol" d="M234.3 458V528.5"/>
<path class="ol" d="M384.9 459.7V528.5"/>
<path class="ol" d="M443.1 400.6L455.2 407.6V528.5"/>
<path class="ol" d="M534.6 495.3V528.5"/>
</g>

<!-- ===== washer 016 ===== -->
<g id="p016">
<ellipse cx="220.4" cy="99" rx="13.3" ry="7.2" fill="#c6c6cb" stroke="#47474c" stroke-width="0.9"/>
<ellipse cx="220.4" cy="97.6" rx="13.2" ry="6.6" fill="#ececef" stroke="#55555a" stroke-width="0.7"/>
<ellipse cx="220" cy="97.6" rx="10.6" ry="5.2" fill="none" stroke="#a2a2a8" stroke-width="0.6"/>
<ellipse cx="219.4" cy="97.2" rx="7.8" ry="4" fill="#77777e" stroke="#3c3c40" stroke-width="0.8"/>
<ellipse cx="219.6" cy="98.4" rx="6" ry="2.7" fill="#ececef" stroke="#5a5a60" stroke-width="0.6"/>
<path d="M213 96.2C214.5 94.6 217 93.8 219.6 93.8C222.4 93.8 225 94.6 226.4 96.2" fill="none" stroke="#b9b9bf" stroke-width="0.8"/>
</g>
<!-- ===== flange nut 014 ===== -->
<g id="p014" stroke-linejoin="round">
<path d="M259 141L259.3 147.6C261.5 150 265.5 151.3 269.6 151.3C273.6 151.3 277.4 150.2 279.4 148L279.4 141Z" fill="#8e8e95" stroke="#47474c" stroke-width="0.8"/>
<path d="M263.5 143L263.7 149.8M269 144L269.1 151M274.6 143.5L274.6 150.2" stroke="#a9a9af" stroke-width="0.7" fill="none"/>
<path id="nf" d="M251.1 135.6C251.6 133.4 254 130.4 256.8 129.3L263.4 127.2C265.4 126.6 267.6 126.4 269.4 126.5C271.2 126.6 273 127.4 275 128.4L286 133.8C287.4 134.5 288.1 135 288 135.6C288 137.2 287 139.2 285.1 140.8L278 144.6C275 145.7 271 146.2 267.9 146C265 145.7 262 143.8 259.3 141L252.2 138C251.4 137.4 251 136.5 251.1 135.6Z" fill="#b4b4ba" stroke="#3c3c40" stroke-width="0.9"/>
<path d="M251.1 133.4C251.6 131.2 254 128.4 256.8 127.3L263.4 125.2C265.4 124.6 267.6 124.3 269.4 124.4C271.2 124.5 273 125.3 275 126.3L286 131.7C287.4 132.4 288.1 132.9 288 133.5C288 135.1 287 137.1 285.1 138.7L278 142.5C275 143.5 271 144 267.9 143.8C265 143.5 262 141.6 259.3 138.8L252.2 135.8C251.4 135.2 251 134.3 251.1 133.4Z" fill="#f0f0f2" stroke="#3c3c40" stroke-width="0.9"/>
<ellipse cx="267.2" cy="134.1" rx="7.3" ry="3.7" fill="#85858c" stroke="#47474c" stroke-width="0.9"/>
<path d="M260.3 134.9C261.6 137.2 264.6 138 267.4 138C270.4 138 273.2 137 274.4 135C272.6 136.2 270 136.6 267.4 136.6C264.6 136.6 262 136 260.3 134.9Z" fill="#c3c3c8"/>
<g fill="#47474c"><ellipse cx="255.7" cy="133" rx="1.1" ry="0.6"/><ellipse cx="257.6" cy="130.2" rx="1" ry="0.6"/><ellipse cx="259.8" cy="128.4" rx="1" ry="0.6"/><ellipse cx="262.3" cy="127" rx="1" ry="0.6"/><ellipse cx="268.3" cy="126.3" rx="1.2" ry="0.6"/><ellipse cx="269.7" cy="139.8" rx="1.2" ry="0.6"/><ellipse cx="275.1" cy="139.1" rx="1.2" ry="0.6"/><ellipse cx="278.3" cy="137.7" rx="1" ry="0.6"/><ellipse cx="281.5" cy="135.6" rx="1" ry="0.6"/><ellipse cx="283.7" cy="133.4" rx="1" ry="0.6"/></g>
</g>
<!-- ===== shield 011 ===== -->
<g id="p011" stroke-linejoin="round">
<path d="M298.8 175.1L308.8 174.5L309.4 192.7L300 192.1L298.8 190Z" fill="#dcdce0" stroke="#4a4a4f" stroke-width="0.9"/>
<path d="M306.6 174.7L308.9 174.6L309.4 193.4L307 192.5Z" fill="#8d8d94"/>
<path d="M309.4 192.9L312.6 197.7L306.3 197.1L305 195.3L308.2 192.7Z" fill="#9d9da4" stroke="#4a4a4f" stroke-width="0.7"/>
<path d="M308.8 175.1L337.1 161.3L337.1 156L339.6 158.2L340.2 182.7L338.3 184.5L331.4 187.7L330.8 196.5L333.9 201.5C334.4 203.5 334 205.2 333.3 206.5C331.8 208 329.6 208.6 327.7 208.4C325 207.5 323.4 206 322.6 204L320.8 192.7L312.6 197.7L309.4 193Z" fill="url(#gPl)" stroke="#4a4a4f" stroke-width="0.9"/>
<path d="M337.1 156L339.6 158.2L340.2 182.7L338.3 184.5Z" fill="#a0a0a7"/>
<path d="M322.6 204C323.4 206 325 207.5 327.7 208.4C329.6 208.6 331.8 208 333.3 206.5C334 205.2 334.4 203.5 333.9 201.5C333 204.5 330.5 206.4 327.8 206.2C325.4 206 323.6 205 322.6 204Z" fill="#8a8a91"/>
<circle cx="328.7" cy="203.3" r="1.9" fill="#f1f1f3" stroke="#4a4a4f" stroke-width="0.7"/>
<path d="M328.7 203.3L330.6 202.2" stroke="#4a4a4f" stroke-width="0.6"/>
</g>
<!-- ===== shield 013 ===== -->
<g id="p013" stroke-linejoin="round">
<path d="M372.9 436.4C373.4 434.2 374.4 432.6 376 431.7L396.2 422.4C397.6 421.7 399 421.5 400.1 421.6C401.6 422 402.4 423.2 402.4 424.7L402.4 430.2L373.7 443.4L372.6 440.3Z" fill="#c6c6cb" stroke="#4a4a4f" stroke-width="0.9"/>
<path d="M373.7 443.4L402.4 430.2L402 433.2L374.4 446Z" fill="#9fa2ad" stroke="#4a4a4f" stroke-width="0.6"/>
<circle cx="398.6" cy="425.5" r="1.8" fill="#f4f4f5" stroke="#4a4a4f" stroke-width="0.7"/>
<circle cx="376.8" cy="434.9" r="1.4" fill="#f4f4f5" stroke="#4a4a4f" stroke-width="0.6"/>
<path d="M372.2 447.3L400.9 432.5L403.2 431.7L403.2 449.6L400.9 450.7L372.2 463.6Z" fill="#e8e8eb" stroke="#4a4a4f" stroke-width="0.9"/>
<path d="M400.9 432.5L403.2 431.7L403.2 449.6L400.9 450.7Z" fill="#77777e"/>
<path d="M355.9 451.9C357 450 358.5 449 360 448.5L365.2 447.3L372.2 447.6L372.2 463.6L368.3 464.3L356.6 462.8C355.2 461.5 354.6 460 354.6 458.1C354.6 455.6 355 453.6 355.9 451.9Z" fill="#ebebee" stroke="#4a4a4f" stroke-width="0.9"/>
<path d="M369.6 447.5L372.2 447.6L372.2 463.6L369.8 464Z" fill="#a0a0a7"/>
</g>
<!-- ===== snap ring 021 ===== -->
<g id="p021">
<path d="M438.7 354.7A22.9 33.5 26 1 1 409.3 414.9A22.9 33.5 26 1 1 438.7 354.7ZM433.8 359.9A15.9 26.2 26 1 0 410.8 406.9A15.9 26.2 26 1 0 433.8 359.9Z" fill="#8c8c93" fill-rule="evenodd" stroke="#38383c" stroke-width="1"/>
<path d="M435.7 357.9A18.6 29.0 26 1 1 410.3 410.1A18.6 29.0 26 1 1 435.7 357.9Z" fill="none" stroke="#5e5e64" stroke-width="0.7"/>
<path d="M437.7 355.7A21.4 32.0 26 1 1 409.7 413.3A21.4 32.0 26 1 1 437.7 355.7Z" fill="none" stroke="#ececef" stroke-width="2.6" stroke-dasharray="0 110 56 300"/>
<path d="M441.5 372C443 381 441 392 435.5 400.5C431 407 424 411.6 417.5 411.5" fill="none" stroke="#a9a9af" stroke-width="1.5"/>
<!-- gap -->
<path d="M398 388L408 386L409 395L399.5 398Z" fill="#ffffff"/>
<path d="M403.6 380.5C402.4 384 401 387 399 389.4C396.5 391 394.6 392.5 394.6 395.2C394.8 397.6 396.4 399 398.4 398.6C400.2 398 401 396.6 400.8 394.8" fill="none" stroke="#38383c" stroke-width="0.9"/>
<path d="M397.5 392.4C399 394.4 400.4 397 401.4 400C402.4 402.6 403.5 405 405 407" fill="none" stroke="#38383c" stroke-width="0.9"/>
<path d="M395.6 393.4C397.6 390.6 400.6 389.2 402.4 386L404.8 387.4C403.2 391 401.6 393.4 401.2 396C400.4 398.2 398 399 396.4 397.8C395 396.8 394.8 394.8 395.6 393.4Z" fill="#85858c"/>
<path d="M398.4 394.6C400 397.5 401.2 400.6 402.4 403.4L405.6 401.6C404 398.6 402.8 395.8 402.6 393.4Z" fill="#77777e"/>
<circle cx="397.4" cy="395.4" r="1" fill="#38383c"/>
</g>
<!-- ===== O-ring 028 ===== -->
<ellipse cx="235.4" cy="448.6" rx="15.5" ry="8.3" transform="rotate(14 235.4 448.6)" fill="none" stroke="#3a3a3e" stroke-width="1.5"/>
<!-- ===== sensor 029 ===== -->
<g id="p029" stroke-linejoin="round">
<path d="M115.1 421.1L119.9 417.4L125.8 416.8L129.6 419L134.4 415.2L158.1 430.3L159.1 433L158.9 443.7L150.5 447.5L147.3 450.2L140.9 453.9L132.3 453.9L122.6 448L121.5 439.4L115.1 435.6Z" fill="#d9d9dd" stroke="#3a3a3e" stroke-width="1"/>
<!-- base -->
<path d="M122.6 442.6L132.3 440.5L143 443.7L148.4 447.5L147.3 450.2L140.9 453.9L132.3 453.9L122.6 448Z" fill="#e3e3e6" stroke="#4a4a4f" stroke-width="0.7"/>
<path d="M129.5 449.6L129.8 452.4L132.3 453.9L140.9 453.9L144 452.2L144 449.4C141.5 450.6 139 451 136.5 451C134 451 131.5 450.6 129.5 449.6Z" fill="#c6c6cb" stroke="#6a6a70" stroke-width="0.5"/>
<ellipse cx="135.6" cy="444.9" rx="3.2" ry="1.9" fill="#a9a9af" stroke="#5a5a60" stroke-width="0.6"/>
<ellipse cx="135.6" cy="444.9" rx="1.6" ry="1" fill="#47474c"/>
<!-- front face -->
<path d="M131.2 421.1L148.9 435.6L149.5 446.9L143 443.7L131.2 438.3Z" fill="#a6a9b4" stroke="#47474c" stroke-width="0.7"/>
<path d="M131.8 428L138.5 432.6L138.5 430L146.6 436.6L146.6 444.6" fill="none" stroke="#47474c" stroke-width="0.8"/>
<path d="M133.5 430.5L138 433.5L138 436.5L133.5 434Z" fill="#ced1da"/>
<path d="M131.2 421.1L131.2 438.3L128.6 440.8L128.6 422.5Z" fill="#8a8a91"/>
<!-- top face -->
<path d="M129.6 419L134.4 415.7L157.6 430.6L149.2 434.8L131.2 421.1Z" fill="#f4f4f6" stroke="#47474c" stroke-width="0.6"/>
<!-- dark band -->
<path d="M134.4 415.2L158.1 430.3L159.1 433L150.5 437.3L148.9 435.1L156 431L134.2 416.6Z" fill="#47474c"/>
<!-- end face -->
<path d="M150.5 437.3L158.9 433.2L158.9 443.7L150.5 447.5Z" fill="#f7f7f8" stroke="#47474c" stroke-width="0.7"/>
<!-- tube -->
<path d="M118 420.8L118 424L123.4 426.5L123.4 441.6L128.6 440.8L128.6 421Z" fill="#85858c" stroke="#47474c" stroke-width="0.6"/>
<path d="M125 425.5L125 441.2" stroke="#b9b9bf" stroke-width="1.4"/>
<ellipse cx="123.2" cy="420.7" rx="5.4" ry="2.9" fill="#a4a7b0" stroke="#47474c" stroke-width="0.8"/>
<ellipse cx="123.6" cy="421.1" rx="3.6" ry="1.8" fill="#77777e"/>
<!-- left white face -->
<path d="M116.2 423.8L121.5 426L121.5 437.3L116.2 435.1Z" fill="#f7f7f8" stroke="#6a6a70" stroke-width="0.5"/>
<path d="M115.1 421.1L116.6 423.6L116.6 435.4L115.1 435.6Z" fill="#55555a"/>
</g>


<use href="#hubBody"/><use href="#hubBack"/><use href="#hubFront"/>
<g id="asm010">
<use href="#knuckle" transform="translate(249.3 -134)"/>
<path d="M557.4 176C560 170 565 166 570 165L580 200L575 250L560 262L549 264C551.5 255 553.4 246 554.6 238C555.6 228 555.8 216 555.6 205C555.6 195 556 186 557.4 176Z" fill="#bfbfc6"/>
<ellipse cx="583" cy="199" rx="27" ry="39" transform="rotate(14 583 199)" fill="#c6c6cc"/>
<path d="M557.4 176C556.4 182 555.6 188 555.5 195C555.4 206 555.6 216 555 226C554 236 551.5 246 548 254C546 259 543.5 264 541 268" fill="none" stroke="#34343a" stroke-width="1.3"/>
<path d="M562 176C559.6 182 558.4 190 558 198C557.8 210 558.4 222 560.4 232C561.6 239 564 246 568.6 251" fill="none" stroke="#5a5a60" stroke-width="0.9"/>
<use href="#hubBack" transform="translate(70.9 -237.1)"/><path d="M566.4 195C563.6 203 562.6 213 563 222C563.4 230 564.6 237 566.4 243" fill="none" stroke="#c3c3c9" stroke-width="4.6"/>
<path d="M568.2 194C565.6 202 564.8 212 565.2 222C565.6 230 566.8 237 568.8 243.6" fill="none" stroke="#3a3a3e" stroke-width="0.8"/>
<use href="#hubFront" transform="translate(70.9 -237.1)"/>
<!-- shield on 010 -->
<g stroke-linejoin="round">
<ellipse cx="521.6" cy="79" rx="12.4" ry="6" transform="rotate(4 521.6 79)" fill="#f1f1f3"/>
<path d="M507 76.5C509 73.5 512 72 515 71.5" fill="none" stroke="#8d8d94" stroke-width="0.7"/>
<circle cx="508.6" cy="76.6" r="0.7" fill="#47474c"/><circle cx="509.6" cy="74.6" r="0.7" fill="#47474c"/>
<circle cx="543.3" cy="98.9" r="4.2" fill="#a9a9af" stroke="#3a3a3e" stroke-width="0.9"/>
<circle cx="543.3" cy="98.9" r="2" fill="#c9c9ce" stroke="#6a6a70" stroke-width="0.5"/>
<path d="M513.8 72L525.1 70.1L525.7 88.3L515.1 88.9L513.8 82.6Z" fill="#d9d9dd" stroke="#4a4a4f" stroke-width="0.9"/>
<path d="M523 70.6L525.7 70.1L526 89.5L523.4 88.5Z" fill="#8d8d94"/>
<path d="M525.7 70.1L550.8 56.9L551.2 51.3L553.3 53.2L554.2 79.5L546.4 83.9L544.5 92L536.4 95.8L535.8 88.3L526.3 91.4Z" fill="url(#gPl)" stroke="#4a4a4f" stroke-width="0.9"/>
<path d="M551.2 51.3L553.3 53.2L554.2 79.5L552.2 80.6Z" fill="#9a9aa0"/>
<path d="M515.1 88.9L525.7 88.3L526.3 91.4L521 93.5L516 92Z" fill="#8d8d94" stroke="#4a4a4f" stroke-width="0.6"/>
</g>
<!-- block under hub on 010 -->
<g stroke-linejoin="round">
<path d="M548.9 263.9L557.7 257.6L575.2 253.8L587.8 260.1L557.7 270.8L554.5 268.9Z" fill="#7d7d84" stroke="#3a3a3e" stroke-width="0.9"/>
<path d="M557.7 270.8L587.8 260.1L587.2 273.9L557.7 287.1Z" fill="#b9bcc6" stroke="#3a3a3e" stroke-width="0.9"/>
<path d="M540.1 277.7L548.9 271.4L555.1 269.5L557.7 270.8L557.7 287.1L553.9 289L541.3 289L536.9 284Z" fill="#96969d" stroke="#3a3a3e" stroke-width="0.9"/>
<path d="M548.9 263.9L554.5 268.9L557.7 270.8L555.1 269.5L548.9 271.4L540.1 277.7L543 270Z" fill="#5e5e64" stroke="#3a3a3e" stroke-width="0.7"/>
<circle cx="562.7" cy="259.3" r="2.8" fill="#8a8a90" stroke="#34343a" stroke-width="0.8"/>
<path d="M555.5 268.2L557.2 271.2" stroke="#ffffff" stroke-width="1.2" fill="none"/>
</g>
</g>

<use href="#knuckle"/><use href="#kstuds"/>


<!-- ===== dashed lines ===== -->
<g id="dashes">
<path class="ds" d="M220.8 107.2V141"/>
<path class="ds" d="M278.9 107L279.7 137.6"/>
<path d="M277.8 102.4L279 106.4" stroke="#2e2e32" stroke-width="1" fill="none"/>
<path class="ds" d="M358.4 185.8L333.9 200.2"/>
<path class="ds" d="M209.4 227.4L257.8 255.5"/>
<path class="ds" d="M207.4 250.7L255.9 279.7"/>
<path class="ds" d="M225.1 290.6L273.5 319"/>
<path class="ds" d="M226.3 320.2L273.9 347.7"/>
<path class="ds" d="M293.2 424.8L285.5 471.6"/>
<path class="ds" d="M403.2 428.9L446.7 455"/>
<path class="ds" d="M376.8 435.6L425.7 464.3"/>
</g>

<!-- ===== small labels ===== -->
<g id="labels" class="lbl" text-anchor="middle" filter="url(#fx)">
<g fill="#fff" stroke="none">
<rect x="219" y="230.6" width="16" height="8"/>
<rect x="217.8" y="254.8" width="16" height="8"/>
<rect x="235.5" y="294" width="16" height="8"/>
<rect x="235.8" y="323.5" width="16" height="8"/>
<rect x="281.3" y="450.5" width="16" height="12.5"/>
</g>
<text x="220.8" y="148.9" textLength="13.1" lengthAdjust="spacingAndGlyphs">017</text>
<text x="278.5" y="100.9" textLength="13.2" lengthAdjust="spacingAndGlyphs">015</text>
<text x="360.4" y="183.7" textLength="13.0" lengthAdjust="spacingAndGlyphs">012</text>
<text x="207.5" y="226.9" textLength="13.4" lengthAdjust="spacingAndGlyphs">019</text>
<text x="227.0" y="237.8" textLength="14.0" lengthAdjust="spacingAndGlyphs">020</text>
<text x="205.9" y="249.6" textLength="13.4" lengthAdjust="spacingAndGlyphs">019</text>
<text x="225.5" y="262.0" textLength="14.0" lengthAdjust="spacingAndGlyphs">020</text>
<text x="224.5" y="289.6" textLength="13.4" lengthAdjust="spacingAndGlyphs">019</text>
<text x="243.3" y="301.2" textLength="14.0" lengthAdjust="spacingAndGlyphs">020</text>
<text x="222.0" y="318.6" textLength="13.4" lengthAdjust="spacingAndGlyphs">019</text>
<text x="243.6" y="330.7" textLength="14.0" lengthAdjust="spacingAndGlyphs">020</text>
<text x="289.1" y="458.7" textLength="14.0" lengthAdjust="spacingAndGlyphs">020</text>
<text x="284.5" y="479.6" textLength="13.1" lengthAdjust="spacingAndGlyphs">017</text>
<text x="444.5" y="461.6" textLength="13.0" lengthAdjust="spacingAndGlyphs">012</text>
<text x="431.9" y="469.1" textLength="13.0" lengthAdjust="spacingAndGlyphs">012</text>
</g>

<!-- ===== callout circles ===== -->
<g id="callouts" class="lbl" text-anchor="middle" filter="url(#fx)">
<circle class="co" cx="220.8" cy="19.4" r="9.6"/><text x="220.8" y="22.3" textLength="14.2" lengthAdjust="spacingAndGlyphs">016</text>
<circle class="co" cx="258.9" cy="19.4" r="9.6"/><text x="258.9" y="22.3" textLength="14.2" lengthAdjust="spacingAndGlyphs">014</text>
<circle class="co" cx="318.8" cy="19.4" r="9.6"/><text x="318.8" y="22.3" textLength="14.2" lengthAdjust="spacingAndGlyphs">011</text>
<circle class="co" cx="757.1" cy="194" r="9.6"/><text x="757.1" y="196.9" textLength="14.2" lengthAdjust="spacingAndGlyphs">010</text>
<circle class="co" cx="135.4" cy="538.6" r="9.6"/><text x="135.4" y="541.5" textLength="14.2" lengthAdjust="spacingAndGlyphs">029</text>
<circle class="co" cx="234.3" cy="538.6" r="9.6"/><text x="234.3" y="541.5" textLength="14.2" lengthAdjust="spacingAndGlyphs">028</text>
<circle class="co" cx="384.9" cy="538.7" r="9.6"/><text x="384.9" y="541.6" textLength="14.2" lengthAdjust="spacingAndGlyphs">013</text>
<circle class="co" cx="455.2" cy="538.7" r="9.6"/><text x="455.2" y="541.6" textLength="14.2" lengthAdjust="spacingAndGlyphs">021</text>
<circle class="co" cx="534.6" cy="538.7" r="9.6"/><text x="534.6" y="541.6" textLength="14.2" lengthAdjust="spacingAndGlyphs">022</text>
</g>

<!-- ===== legend table ===== -->
<g id="legend">
<rect class="tb" x="719.3" y="366" width="47.5" height="182"/>
<path class="tb" d="M719.3 396.3H766.8M719.3 426.6H766.8M719.3 457.2H766.8M719.3 487.3H766.8M719.3 517.4H766.8"/>
<g class="lbl" text-anchor="middle" filter="url(#fx)">
<text x="727.8" y="385" text-anchor="start" textLength="15.3" lengthAdjust="spacingAndGlyphs">020</text>
<text x="727.8" y="415.5" text-anchor="start" textLength="14.8" lengthAdjust="spacingAndGlyphs">019</text>
<text x="727.8" y="446" text-anchor="start" textLength="14.2" lengthAdjust="spacingAndGlyphs">017</text>
<text x="727.8" y="476.6" text-anchor="start" textLength="14.1" lengthAdjust="spacingAndGlyphs">015</text>
<text x="727.8" y="506.9" text-anchor="start" textLength="13.9" lengthAdjust="spacingAndGlyphs">012</text>
</g>

<!-- washer 020 -->
<ellipse cx="757" cy="381.2" rx="7.8" ry="10.2" transform="rotate(-8 757 381.2)" fill="#6f6f75"/>
<ellipse cx="756.2" cy="381" rx="7.2" ry="9.8" transform="rotate(-8 756.2 381)" fill="#7c7c82"/>
<ellipse cx="757" cy="381" rx="2.6" ry="3.9" transform="rotate(-8 757 381)" fill="#f4f4f5" stroke="#4f4f54" stroke-width="0.7"/>
<!-- bolt 019 -->
<path d="M752.2 402.8C752.2 401.6 755 401 757.9 401C760.8 401 763.7 401.6 763.7 402.8L763.7 408.6C763.7 409.6 762 410 761.9 410.4L761.9 421.8C761.9 422.8 760 423.4 758.1 423.4C756.2 423.4 754.4 422.8 754.4 421.8L754.4 410.4C754.2 410 752.2 409.6 752.2 408.6Z" fill="url(#gL1)"/>
<ellipse cx="757.9" cy="402.8" rx="5.7" ry="1.6" fill="#5e5e64"/>
<ellipse cx="757.9" cy="402.8" rx="2.6" ry="0.8" fill="#2f2f33"/>
<path d="M755 404.5V409M757 404.8V409.4M759 404.8V409.4M761 404.5V409" stroke="#38383c" stroke-width="0.5"/>
<!-- nut 017 -->
<path d="M748.6 438.4C748.6 436.8 752.5 435.4 756.6 435.4C760.7 435.4 764.6 436.8 764.6 438.4C764.6 439.8 763.4 440.6 762.6 441L762.6 446.6C761.5 448 759 448.8 756.6 448.8C754.2 448.8 751.8 448 750.7 446.6L750.7 441C749.8 440.6 748.6 439.8 748.6 438.4Z" fill="#9b9ba1" stroke="#6a6a70" stroke-width="0.5"/>
<path d="M750.7 441.4C752.4 442.6 754.5 443 756.6 443C758.7 443 761 442.6 762.6 441.4L762.6 446.6C761.5 448 759 448.8 756.6 448.8C754.2 448.8 751.8 448 750.7 446.6Z" fill="#85858b"/>
<path d="M753.6 442.8V448.2M759.8 442.8V448.2" stroke="#c0c0c5" stroke-width="0.6"/>
<ellipse cx="756.6" cy="438.3" rx="8" ry="2.9" fill="#c3c3c8" stroke="#77777d" stroke-width="0.5"/>
<ellipse cx="756.6" cy="438.1" rx="4.6" ry="1.7" fill="#85858b"/>
<ellipse cx="756.6" cy="438.3" rx="2.6" ry="0.9" fill="#4f4f54"/>
<!-- screw 015 -->
<path d="M748.8 462.4L753 466.4L753 483.2C753 484.4 755 485 757.3 485C759.6 485 761.7 484.4 761.7 483.2L761.7 466.4L765.6 462.4Z" fill="url(#gL2)"/>
<ellipse cx="757.2" cy="462.4" rx="8.4" ry="1.9" fill="#b4b4ba" stroke="#85858b" stroke-width="0.5"/>
<path d="M754 462.2L760.6 462.6" stroke="#707076" stroke-width="0.7"/>
<path d="M755 468V484M757.4 468V484.6M759.6 468V484" stroke="#a9a9af" stroke-width="0.4"/>
<!-- bolt 012 -->
<path d="M752.6 490.6C752.6 489.8 754.8 489.4 756.9 489.4C759 489.4 761.2 489.8 761.2 490.6L761.2 495.4L764.5 496.8C764.7 497.6 764.6 498.4 764.3 498.8L761.2 500L761.2 515.4C761.2 516.4 759.1 517 757 517C754.9 517 752.9 516.4 752.9 515.4L752.9 500L749.2 498.8C748.9 498.4 748.8 497.6 749 496.8L752.6 495.4Z" fill="url(#gL3)"/>
<ellipse cx="756.9" cy="490.6" rx="4.3" ry="1.1" fill="#6a6a70"/>
<path d="M755.6 491.5V495.6M758.6 491.5V495.6" stroke="#2a2a2e" stroke-width="0.5"/>
<ellipse cx="756.8" cy="497.2" rx="7.8" ry="1.9" fill="#55555a"/>
<!-- arrow -->
<g fill="#dc5f1d">
<path d="M727.8 540.9L734.8 528.9L738.6 531.3L740.2 529.9L748.3 537.9L747.6 538.2Z"/>
<path d="M743.2 528.1L746.8 526.1L753.4 531.1L750 533.2Z"/>
<path d="M749.6 524.4L755.7 521.1L762.8 526.1L756.4 529.8Z"/>
<path d="M727 541.9L748.9 538.8L749.2 539.6L727.2 543Z"/>
<path d="M748.4 536.6L751.2 534.7L751.9 535.5L749.2 537.4Z"/>
<path d="M751.9 534.2L757.5 530.6L758.1 531.5L752.6 535.1Z"/>
<path d="M758.2 530.2L763.2 527L763.8 527.9L758.9 531.1Z"/>
</g>

</g>
</svg>
</body>
</html>
